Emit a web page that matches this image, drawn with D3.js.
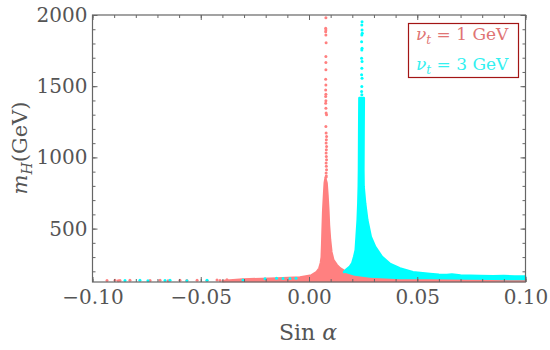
<!DOCTYPE html>
<meta charset="utf-8">
<script src="https://d3js.org/d3.v7.min.js"></script>
<style>
  body { margin: 0; background: #fff; }
  text { font-family: "DejaVu Serif", serif; }
</style>
<div id="chart"></div>
<script>
// dense part of the v_t = 1 GeV points: outline [sin alpha, mH]
var redUpper = [
  [-0.0397,131],[-0.0305,142],[-0.0148,150],[-0.0042,157],[0.0012,171],[0.0036,195],
  [0.0048,220],[0.0055,258],[0.0059,300],[0.0061,385],[0.0063,490],[0.0066,630],
  [0.0071,771],[0.0073,820],[0.0076,848],[0.0081,820],[0.0085,736],[0.0089,630],
  [0.0092,525],[0.0097,420],[0.0103,336],[0.0112,279],[0.0128,244],[0.0143,221],
  [0.0166,199],[0.0212,178],[0.0282,164],[0.0420,153],[0.0559,153],[0.0744,150],[0.0998,146]
];
var redLower = [[0.0998,132],[-0.0397,132]];

// dense part of the v_t = 3 GeV points: outline
var cyanUpper = [
  [0.0162,195],[0.0171,209],[0.0189,232],[0.0200,256],[0.0209,303],[0.0216,350],
  [0.0220,443],[0.0225,560],[0.0228,678],[0.0230,794],[0.0231,912],[0.0232,1192],
  [0.0233,1417],[0.0253,1417],[0.0252,1192],[0.0251,912],[0.0252,794],[0.0259,678],
  [0.0269,560],[0.0285,443],[0.0305,373],[0.0336,303],[0.0374,251],[0.0420,220],
  [0.0480,193],[0.0559,181],[0.0600,176],[0.0637,174],[0.0660,178],[0.0700,170],
  [0.0744,168],[0.0790,167],[0.0850,165],[0.0900,167],[0.0950,164],[0.0998,164]
];
var cyanLower = [[0.0998,146],[0.0744,150],[0.0559,153],[0.0420,153],[0.0282,164],[0.0212,178],[0.0166,199]];

// single points outside the dense parts
var redDots = [
  [0.0078,1981],[0.0077,1907],[0.0078,1895],[0.0077,1883],[0.0078,1860],[0.0079,1806],
  [0.0078,1708],[0.0078,1666],[0.0078,1615],[0.0077,1549],[0.0078,1509],[0.0077,1474],
  [0.0078,1444],[0.0077,1428],[0.0078,1397],[0.0077,1381],[0.0078,1346],[0.0079,1311],
  [0.0081,1299],[0.0078,1217],[0.0079,1171],[0.0081,1147],[0.0080,1124],[0.0079,1101],
  [0.0081,1077],[0.0080,1054],[0.0079,1031],[0.0080,1007],[0.0081,984],[0.0079,960],
  [0.0080,937],[0.0081,914],[0.0079,890],[0.0080,870],[0.0078,860],
  [-0.0933,136],[-0.0896,137],[-0.0881,134],[-0.0873,136],[-0.0827,137],[-0.0734,135],
  [-0.0688,138],[-0.0651,134],[-0.0596,137],[-0.0564,135],[-0.0517,138],[-0.0471,136],
  [-0.0425,139],[-0.0411,135],[-0.0379,140]
];
var cyanDots = [
  [0.0245,1953],[0.0244,1930],[0.0245,1895],[0.0246,1872],[0.0244,1860],[0.0243,1813],
  [0.0245,1766],[0.0244,1755],[0.0243,1696],[0.0245,1673],[0.0244,1626],[0.0243,1580],
  [0.0245,1556],[0.0244,1498],[0.0243,1463],[0.0244,1440],
  [-0.0850,135],[-0.0781,137],[-0.0744,134],[-0.0665,136],[-0.0642,138],[-0.0564,134],
  [-0.0471,137],[-0.0305,139],[-0.0203,148],[-0.0150,151],[-0.0120,149],[-0.0088,150],[-0.0060,152]
];

var xMajor = [-0.10,-0.05,0.00,0.05,0.10];
var yMajor = [500,1000,1500,2000];
var legendLabels = ["1 GeV","3 GeV"];

var red = "#ff8080", cyan = "#00ffff";

var width = 550, height = 350;
var svg = d3.select("#chart").append("svg")
    .attr("width", width)
    .attr("height", height);

var x = d3.scaleLinear().domain([-0.1, 0.1]).range([92.5, 525.5]);
var y = d3.scaleLinear().domain([125, 2000]).range([282, 15]);

var xMinor = d3.range(-10, 11).map(function(i) { return i / 100; });
var yMinor = d3.range(2, 20).map(function(i) { return i * 100; });

var line = d3.line().x(function(d) { return x(d[0]); }).y(function(d) { return y(d[1]); });

// red
svg.append("path").attr("d", line(redUpper.concat(redLower)) + "Z")
    .attr("fill", red).attr("stroke", red).attr("stroke-width", 2.6).attr("stroke-linejoin", "round");
svg.selectAll(".rdot").data(redDots).enter().append("circle")
    .attr("cx", function(d) { return x(d[0]); })
    .attr("cy", function(d) { return y(d[1]); })
    .attr("r", 1.5).attr("fill", red);

// cyan
svg.append("path").attr("d", line(cyanUpper.concat(cyanLower)) + "Z")
    .attr("fill", cyan).attr("stroke", cyan).attr("stroke-width", 2.6).attr("stroke-linejoin", "round");
svg.selectAll(".cdot").data(cyanDots).enter().append("circle")
    .attr("cx", function(d) { return x(d[0]); })
    .attr("cy", function(d) { return y(d[1]); })
    .attr("r", 1.5).attr("fill", cyan);

// frame
function ax(g) {
  g.select(".domain").remove();
  g.selectAll("line").attr("stroke", "#666");
  g.selectAll("text").attr("fill", "#555").style("font-size", "20px");
}
svg.append("g").attr("transform", "translate(0,282)")
    .call(d3.axisBottom(x).tickValues(xMinor).tickSizeInner(-3).tickFormat("")).call(ax);
svg.append("g").attr("transform", "translate(0,282)")
    .call(d3.axisBottom(x).tickValues(xMajor).tickSizeInner(-5).tickPadding(8).tickFormat(d3.format(".2f"))).call(ax);
svg.append("g").attr("transform", "translate(0,15)")
    .call(d3.axisTop(x).tickValues(xMinor).tickSizeInner(-3).tickFormat("")).call(ax);
svg.append("g").attr("transform", "translate(0,15)")
    .call(d3.axisTop(x).tickValues(xMajor).tickSizeInner(-5).tickFormat("")).call(ax);
svg.append("g").attr("transform", "translate(92.5,0)")
    .call(d3.axisLeft(y).tickValues(yMinor).tickSizeInner(-3).tickFormat("")).call(ax);
svg.append("g").attr("transform", "translate(92.5,0)")
    .call(d3.axisLeft(y).tickValues(yMajor).tickSizeInner(-5).tickPadding(5).tickFormat(d3.format("d"))).call(ax);
svg.append("g").attr("transform", "translate(525.5,0)")
    .call(d3.axisRight(y).tickValues(yMinor).tickSizeInner(-3).tickFormat("")).call(ax);
svg.append("g").attr("transform", "translate(525.5,0)")
    .call(d3.axisRight(y).tickValues(yMajor).tickSizeInner(-5).tickFormat("")).call(ax);

svg.append("rect")
    .attr("x", 92.5).attr("y", 15).attr("width", 433).attr("height", 267)
    .attr("fill", "none").attr("stroke", "#666").attr("stroke-width", 1.2);

// axis titles
var xt = svg.append("text").attr("x", 308).attr("y", 340)
    .attr("text-anchor", "middle").attr("fill", "#555").style("font-size", "22px");
xt.append("tspan").text("Sin ");
xt.append("tspan").attr("font-style", "italic").text("α");

var yt = svg.append("text").attr("transform", "translate(27,148) rotate(-90)")
    .attr("text-anchor", "middle").attr("fill", "#555").style("font-size", "21px");
yt.append("tspan").attr("font-style", "italic").text("m");
yt.append("tspan").attr("font-style", "italic").attr("dy", 5).style("font-size", "14px").text("H");
yt.append("tspan").attr("dy", -5).text("(GeV)");

// legend
svg.append("rect").attr("x", 408.5).attr("y", 23.5).attr("width", 110).attr("height", 54)
    .attr("fill", "#fff").attr("stroke", "#a31515").attr("stroke-width", 1.2);
var legColors = ["#e07474", "#33f0f0"];
legendLabels.forEach(function(lab, i) {
  var t = svg.append("text").attr("x", 416).attr("y", 39.5 + i * 30)
      .attr("fill", legColors[i]).style("font-size", "17px");
  t.append("tspan").attr("font-style", "italic").text("ν");
  t.append("tspan").attr("font-style", "italic").attr("dy", 4).style("font-size", "12px").text("t");
  t.append("tspan").attr("dy", -4).text(" =  " + lab);
});
</script>
